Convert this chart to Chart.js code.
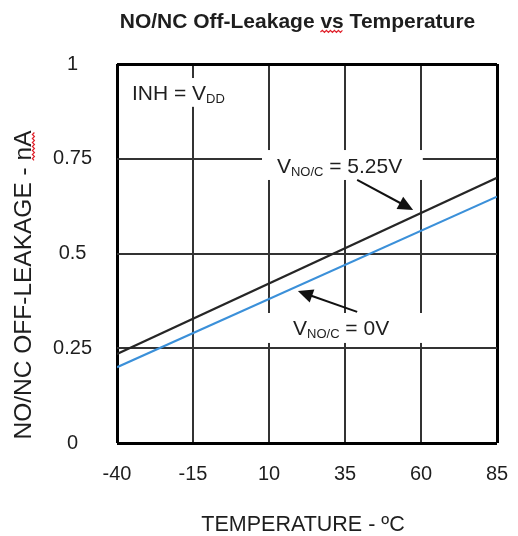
<!DOCTYPE html>
<html><head><meta charset="utf-8">
<script src="https://cdn.jsdelivr.net/npm/chart.js@4.4.0/dist/chart.umd.min.js"></script>
<style>html,body{margin:0;padding:0;background:#fff;}#wrap{width:518px;height:536px;}</style>
</head><body><div id="wrap"><canvas id="c" width="518" height="536"></canvas></div>
<script>
// ---- data ----
const temperatures = [-40, 85];
const leakage525V = [0.235, 0.70];
const leakage0V = [0.20, 0.65];
const xTickValues = [-40, -15, 10, 35, 60, 85];
const yTickValues = [0, 0.25, 0.5, 0.75, 1];
const yTickLabels = ['0', '0.25', '0.5', '0.75', '1'];
const chartTitle = 'NO/NC Off-Leakage vs Temperature';
const xAxisTitle = 'TEMPERATURE - ºC';
const yAxisTitle = 'NO/NC OFF-LEAKAGE - nA';

const FONT = '"Liberation Sans", Arial, sans-serif';
const TEXT = '#1e1e1e';

function toPx(chart, x, y) {
  return [chart.scales.x.getPixelForValue(x), chart.scales.y.getPixelForValue(y)];
}
function boxData(chart, x0, y0, x1, y1) {
  const [a, b] = toPx(chart, x0, y0);
  const [c, d] = toPx(chart, x1, y1);
  chart.ctx.fillRect(Math.min(a, c), Math.min(b, d), Math.abs(c - a), Math.abs(d - b));
}
function drawParts(ctx, x, y, parts) {
  let cx = x;
  for (const [t, size, dy] of parts) {
    ctx.font = size + 'px ' + FONT;
    ctx.fillText(t, cx, y + dy);
    cx += ctx.measureText(t).width;
  }
}
function arrow(ctx, x0, y0, x1, y1) {
  const dx = x1 - x0, dy = y1 - y0, L = Math.hypot(dx, dy);
  const ux = dx / L, uy = dy / L, hl = 15, hw = 7;
  ctx.strokeStyle = '#111'; ctx.lineWidth = 2;
  ctx.beginPath(); ctx.moveTo(x0, y0); ctx.lineTo(x1 - ux * hl * 0.8, y1 - uy * hl * 0.8); ctx.stroke();
  ctx.fillStyle = '#111';
  ctx.beginPath();
  ctx.moveTo(x1, y1);
  ctx.lineTo(x1 - ux * hl - uy * hw, y1 - uy * hl + ux * hw);
  ctx.lineTo(x1 - ux * hl + uy * hw, y1 - uy * hl - ux * hw);
  ctx.closePath(); ctx.fill();
}
function squiggle(ctx, x0, x1, y) {
  ctx.strokeStyle = '#e0202a'; ctx.lineWidth = 1.2;
  ctx.beginPath();
  let up = true;
  ctx.moveTo(x0, y);
  for (let x = x0 + 2; x <= x1; x += 2) { ctx.lineTo(x, up ? y - 1.6 : y + 0.4); up = !up; }
  ctx.stroke();
}

const annotations = {
  id: 'annotations',
  beforeDatasetsDraw(chart) {
    const ctx = chart.ctx;
    ctx.save();
    ctx.fillStyle = '#ffffff';
    boxData(chart, -37.4, 0.963, -1.2, 0.887);   // INH label
    boxData(chart, 7.7, 0.773, 60.6, 0.694);     // 5.25V label
    boxData(chart, 7.7, 0.343, 61.3, 0.264);     // 0V label
    ctx.restore();
  },
  afterDatasetsDraw(chart) {
    const ctx = chart.ctx;
    ctx.save();
    ctx.fillStyle = TEXT;
    ctx.textBaseline = 'alphabetic';
    ctx.textAlign = 'left';
    let [x, y] = toPx(chart, -35.1, 0.926);
    drawParts(ctx, x, y + 8, [['INH = V', 21, 0], ['DD', 13, 3]]);
    [x, y] = toPx(chart, 12.6, 0.733);
    drawParts(ctx, x, y + 8, [['V', 21, 0], ['NO/C', 13, 3], [' = 5.25V', 21, 0]]);
    [x, y] = toPx(chart, 17.9, 0.306);
    drawParts(ctx, x, y + 8, [['V', 21, 0], ['NO/C', 13, 3], [' = 0V', 21, 0]]);
    let [a, b] = toPx(chart, 39.0, 0.694), [c, d] = toPx(chart, 57.4, 0.615);
    arrow(ctx, a, b, c, d);
    [a, b] = toPx(chart, 39.0, 0.346); [c, d] = toPx(chart, 19.5, 0.401);
    arrow(ctx, a, b, c, d);
    ctx.restore();
  },
  afterDraw(chart) {
    const ctx = chart.ctx;
    ctx.save();
    ctx.fillStyle = TEXT;
    // chart title
    ctx.font = 'bold 21px ' + FONT;
    ctx.textAlign = 'left'; ctx.textBaseline = 'alphabetic';
    const tw = ctx.measureText(chartTitle).width;
    const tx = 297.5 - tw / 2, ty = 28;
    ctx.fillText(chartTitle, tx, ty);
    const pre = ctx.measureText('NO/NC Off-Leakage ').width;
    const vsw = ctx.measureText('vs').width;
    squiggle(ctx, tx + pre, tx + pre + vsw, ty + 4);
    ctx.fillStyle = TEXT;
    // x axis title
    ctx.font = '21.5px ' + FONT;
    ctx.textAlign = 'center';
    ctx.fillText(xAxisTitle, 303, 531);
    // y axis title
    ctx.translate(31, 285);
    ctx.rotate(-Math.PI / 2);
    ctx.font = '24.5px ' + FONT;
    ctx.textAlign = 'center';
    ctx.fillText(yAxisTitle, 0, 0);
    const yw = ctx.measureText(yAxisTitle).width;
    const naw = ctx.measureText('nA').width;
    squiggle(ctx, yw / 2 - naw, yw / 2, 3);
    ctx.restore();
  }
};

function gridWidth(ctx, lo, hi) {
  const v = ctx.tick && ctx.tick.value;
  return (v === lo || v === hi) ? 3 : 2;
}
function gridColor(ctx, lo, hi) {
  const v = ctx.tick && ctx.tick.value;
  return (v === lo || v === hi) ? '#000000' : '#333333';
}

new Chart(document.getElementById('c'), {
  type: 'line',
  data: {
    datasets: [
      { label: 'VNO/C = 5.25V', data: temperatures.map((t, i) => ({ x: t, y: leakage525V[i] })),
        borderColor: '#262626', borderWidth: 2.2, pointRadius: 0, tension: 0 },
      { label: 'VNO/C = 0V', data: temperatures.map((t, i) => ({ x: t, y: leakage0V[i] })),
        borderColor: '#3b90d9', borderWidth: 2.2, pointRadius: 0, tension: 0 }
    ]
  },
  options: {
    responsive: false,
    animation: false,
    devicePixelRatio: 1,
    layout: { padding: { top: 64, right: 21, left: 0, bottom: 0 } },
    plugins: { legend: { display: false }, tooltip: { enabled: false }, title: { display: false } },
    scales: {
      x: {
        type: 'linear', min: -40, max: 85,
        afterBuildTicks: s => { s.ticks = xTickValues.map(v => ({ value: v })); },
        afterFit: s => { s.height = 93; s.paddingLeft = 0; s.paddingRight = 0; },
        ticks: { font: { family: FONT, size: 20 }, color: TEXT, padding: 19, maxRotation: 0, autoSkip: false },
        grid: { drawTicks: false, lineWidth: c => gridWidth(c, -40, 85), color: c => gridColor(c, -40, 85) },
        border: { display: false }
      },
      y: {
        type: 'linear', min: 0, max: 1,
        afterBuildTicks: s => { s.ticks = yTickValues.map(v => ({ value: v })); },
        afterFit: s => { s.width = 117; s.paddingTop = 0; s.paddingBottom = 0; },
        ticks: {
          font: { family: FONT, size: 20 }, color: TEXT, padding: 25, crossAlign: 'center', autoSkip: false,
          callback: (v) => { const i = yTickValues.indexOf(v); return i >= 0 ? yTickLabels[i] : ''; }
        },
        grid: { drawTicks: false, lineWidth: c => gridWidth(c, 0, 1), color: c => gridColor(c, 0, 1) },
        border: { display: false }
      }
    }
  },
  plugins: [annotations]
});
</script></body></html>
